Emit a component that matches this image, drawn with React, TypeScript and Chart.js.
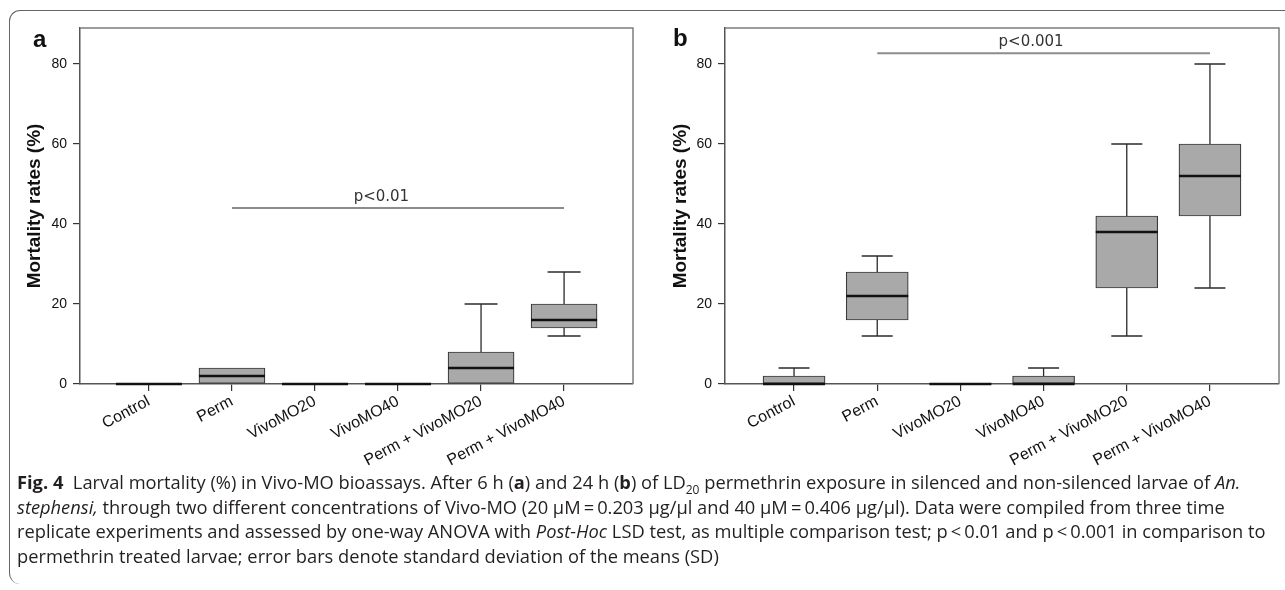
import React, { useEffect, useRef } from 'react';
import { Chart, registerables } from 'chart.js';

Chart.register(...registerables);

const FONT = 'Arial, "Liberation Sans", Helvetica, sans-serif';

// ---------- data ----------
const categories = ['Control', 'Perm', 'VivoMO20', 'VivoMO40', 'Perm + VivoMO20', 'Perm + VivoMO40'];
const yTicks = [0, 20, 40, 60, 80];

// Panel a (6 h)
const aMin = [0, 0, 0, 0, 0, 12];
const aQ1 = [0, 0, 0, 0, 0, 14];
const aMedian = [0, 2, 0, 0, 4, 16];
const aQ3 = [0, 4, 0, 0, 8, 20];
const aMax = [0, 4, 0, 0, 20, 28];
const aSigFromTo = [1, 5];
const aSigValue = 44;
const aSigLabel = 'p<0.01';

// Panel b (24 h)
const bMin = [0, 12, 0, 0, 12, 24];
const bQ1 = [0, 16, 0, 0, 24, 42];
const bMedian = [0, 22, 0, 0, 38, 52];
const bQ3 = [2, 28, 0, 2, 42, 60];
const bMax = [4, 32, 0, 4, 60, 80];
const bSigFromTo = [1, 5];
const bSigValue = 82.7;
const bSigLabel = 'p<0.001';

type Stats = { min: number[]; q1: number[]; median: number[]; q3: number[]; max: number[] };

function makeExtras(st: Stats, sigFromTo: number[], sigValue: number, sigLabel: string, labelAt: number, capHalf: number) {
  return {
    id: 'boxExtras',
    afterDatasetsDraw(chart: any) {
      const { ctx, chartArea: ca } = chart;
      const x = chart.scales.x;
      const y = chart.scales.y;
      const meta = chart.getDatasetMeta(0);
      ctx.save();
      // frame (top + right)
      ctx.strokeStyle = '#7d7d7d';
      ctx.lineWidth = 1.5;
      ctx.beginPath();
      ctx.moveTo(ca.left, ca.top);
      ctx.lineTo(ca.right, ca.top);
      ctx.lineTo(ca.right, ca.bottom);
      ctx.stroke();

      categories.forEach((_, i) => {
        const cx = x.getPixelForValue(i);
        const bar = meta.data[i];
        const half = bar.width / 2;
        ctx.strokeStyle = '#2b2b2b';
        ctx.lineWidth = 1.3;
        const whisker = (from: number, to: number) => {
          if (from === to) return;
          const p1 = y.getPixelForValue(from);
          const p2 = y.getPixelForValue(to);
          ctx.beginPath();
          ctx.moveTo(cx, p1);
          ctx.lineTo(cx, p2);
          ctx.moveTo(cx - capHalf, p2);
          ctx.lineTo(cx + capHalf, p2);
          ctx.stroke();
        };
        whisker(st.q3[i], st.max[i]);
        whisker(st.q1[i], st.min[i]);
        const my = y.getPixelForValue(st.median[i]);
        ctx.strokeStyle = '#111111';
        ctx.lineWidth = 2.6;
        ctx.beginPath();
        ctx.moveTo(cx - half, my);
        ctx.lineTo(cx + half, my);
        ctx.stroke();
      });

      // significance bar
      const sy = y.getPixelForValue(sigValue);
      ctx.strokeStyle = '#8c8c8c';
      ctx.lineWidth = 2;
      ctx.beginPath();
      ctx.moveTo(x.getPixelForValue(sigFromTo[0]), sy);
      ctx.lineTo(x.getPixelForValue(sigFromTo[1]), sy);
      ctx.stroke();
      ctx.fillStyle = '#333333';
      ctx.font = '15px "DejaVu Sans", sans-serif';
      ctx.textAlign = 'center';
      ctx.textBaseline = 'alphabetic';
      ctx.fillText(sigLabel, x.getPixelForValue(labelAt), sy - 7);
      ctx.restore();
    },
  };
}

type PanelProps = {
  left: number;
  width: number;
  height: number;
  st: Stats;
  sigFromTo: number[];
  sigValue: number;
  sigLabel: string;
  labelAt: number;
  yWidth: number;
  titlePad: number;
  padTop: number;
  padRight: number;
  boxW: number;
  capHalf: number;
};

function BoxPanel(p: PanelProps) {
  const ref = useRef<HTMLCanvasElement>(null);
  useEffect(() => {
    if (!ref.current) return;
    const chart = new Chart(ref.current, {
      type: 'bar',
      data: {
        datasets: [
          {
            data: categories.map((_, i) => ({ x: i, y: [p.st.q1[i], p.st.q3[i]] })) as any,
            backgroundColor: '#a9a9a9',
            borderColor: '#3a3a3a',
            borderWidth: 1.2,
            borderSkipped: false,
            barThickness: p.boxW,
          },
        ],
      },
      options: {
        animation: false,
        responsive: false,
        maintainAspectRatio: false,
        events: [],
        layout: { padding: { top: p.padTop, right: p.padRight, left: 0, bottom: 0 } },
        plugins: { legend: { display: false }, tooltip: { enabled: false }, title: { display: false } },
        scales: {
          x: {
            type: 'linear',
            offset: false,
            min: -0.83,
            max: 5.83,
            afterBuildTicks: (ax: any) => {
              ax.ticks = categories.map((_, i) => ({ value: i }));
            },
            afterFit: (s: any) => {
              s.height = p.height - 384;
            },
            ticks: {
              autoSkip: false,
              minRotation: 28,
              maxRotation: 28,
              padding: 1,
              color: '#111',
              font: { family: FONT, size: 16 },
              callback: (v: any) => categories[Math.round(Number(v))] ?? '',
            },
            grid: { offset: false, drawOnChartArea: false, drawTicks: true, tickLength: 7, color: '#333', lineWidth: 1.2 },
            border: { display: true, color: '#555', width: 1.5 },
          },
          y: {
            type: 'linear',
            min: 0,
            max: 89,
            afterBuildTicks: (ax: any) => {
              ax.ticks = yTicks.map((v) => ({ value: v }));
            },
            afterFit: (s: any) => {
              s.width = p.yWidth;
            },
            ticks: {
              padding: 6,
              color: '#111',
              font: { family: FONT, size: 14 },
              callback: (v: any) => String(v),
            },
            grid: { drawOnChartArea: false, drawTicks: true, tickLength: 7, color: '#333', lineWidth: 1.2 },
            border: { display: true, color: '#555', width: 1.5 },
            title: {
              display: true,
              text: 'Mortality rates (%)',
              color: '#111',
              font: { family: FONT, size: 19, weight: 'bold' },
              padding: { top: p.titlePad, bottom: 0 },
            },
          },
        },
      } as any,
      plugins: [makeExtras(p.st, p.sigFromTo, p.sigValue, p.sigLabel, p.labelAt, p.capHalf)],
    });
    return () => chart.destroy();
  }, []);
  return (
    <canvas
      ref={ref}
      width={p.width}
      height={p.height}
      style={{ position: 'absolute', left: p.left, top: 0, width: p.width, height: p.height }}
    />
  );
}

const capStyle: React.CSSProperties = { whiteSpace: 'nowrap' };

export default function App() {
  return (
    <div
      style={{
        position: 'absolute',
        left: 0,
        top: 0,
        width: 1285,
        height: 590,
        overflow: 'hidden',
        background: '#fff',
      }}
    >
      <div
        style={{
          position: 'absolute',
          left: 9,
          top: 10,
          width: 1300,
          height: 574,
          borderTop: '1.5px solid #666',
          borderLeft: '1.5px solid #666',
          borderTopLeftRadius: 11,
          borderBottomLeftRadius: 11,
          boxSizing: 'border-box',
        }}
      />
      <BoxPanel
        left={0}
        width={640}
        height={480}
        st={{ min: aMin, q1: aQ1, median: aMedian, q3: aQ3, max: aMax }}
        sigFromTo={aSigFromTo}
        sigValue={aSigValue}
        sigLabel={aSigLabel}
        labelAt={2.8}
        yWidth={80}
        titlePad={23.5}
        padTop={28}
        padRight={7}
        boxW={66}
        capHalf={16.5}
      />
      <BoxPanel
        left={640}
        width={645}
        height={480}
        st={{ min: bMin, q1: bQ1, median: bMedian, q3: bQ3, max: bMax }}
        sigFromTo={bSigFromTo}
        sigValue={bSigValue}
        sigLabel={bSigLabel}
        labelAt={2.85}
        yWidth={85}
        titlePad={29.5}
        padTop={28}
        padRight={6}
        boxW={62}
        capHalf={15.5}
      />
      <div style={{ position: 'absolute', left: 33, top: 27, font: 'bold 24px Arial, "Liberation Sans", sans-serif', lineHeight: '24px', color: '#111' }}>a</div>
      <div style={{ position: 'absolute', left: 673, top: 26, font: 'bold 24px Arial, "Liberation Sans", sans-serif', lineHeight: '24px', color: '#111' }}>b</div>
      <div
        style={{
          position: 'absolute',
          left: 17,
          top: 470,
          font: '18.3px "Open Sans", "Noto Sans", sans-serif',
          lineHeight: '24.7px',
          color: '#231f20',
        }}
      >
        <div style={capStyle}>
          <b>Fig. 4</b>&nbsp;&nbsp;Larval mortality (%) in Vivo-MO bioassays. After 6 h (<b>a</b>) and 24 h (<b>b</b>) of LD
          <sub style={{ fontSize: '12px', lineHeight: 0 }}>20</sub> permethrin exposure in silenced and non-silenced larvae of <i>An.</i>
        </div>
        <div style={capStyle}>
          <i>stephensi,</i> through two different concentrations of Vivo-MO (20 μM{'\u2009'}={'\u2009'}0.203 μg/μl and 40 μM{'\u2009'}={'\u2009'}0.406 μg/μl). Data were compiled from three time
        </div>
        <div style={capStyle}>
          replicate experiments and assessed by one-way ANOVA with <i>Post-Hoc</i> LSD test, as multiple comparison test; p{'\u2009'}&lt;{'\u2009'}0.01 and p{'\u2009'}&lt;{'\u2009'}0.001 in comparison to
        </div>
        <div style={capStyle}>permethrin treated larvae; error bars denote standard deviation of the means (SD)</div>
      </div>
    </div>
  );
}
